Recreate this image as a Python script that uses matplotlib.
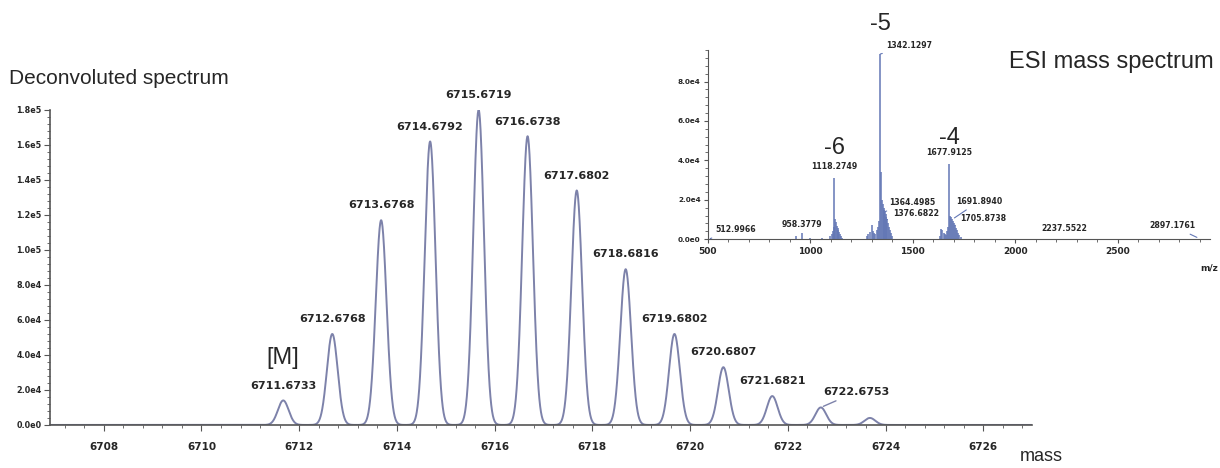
import numpy as np
import matplotlib.pyplot as plt
from matplotlib.ticker import MultipleLocator, AutoMinorLocator, FuncFormatter

# deconvoluted isotope peaks
masses = [6711.6733, 6712.6768, 6713.6768, 6714.6792, 6715.6719, 6716.6738,
          6717.6802, 6718.6816, 6719.6802, 6720.6807, 6721.6821, 6722.6753, 6723.68]
heights = [1.4e4, 5.2e4, 1.17e5, 1.62e5, 1.80e5, 1.65e5,
           1.34e5, 8.9e4, 5.2e4, 3.3e4, 1.65e4, 1.0e4, 4.0e3]
mass_labels = ["6711.6733", "6712.6768", "6713.6768", "6714.6792", "6715.6719", "6716.6738",
               "6717.6802", "6718.6816", "6719.6802", "6720.6807", "6721.6821", "6722.6753", None]

# raw ESI spectrum (m/z, intensity)
esi_mz = [512.9966, 930, 958.3779, 1000, 1060, 1096, 1104, 1110, 1114, 1118.2749, 1122, 1126,
          1130, 1134, 1138, 1142, 1146, 1150, 1156,
          1276, 1284, 1292, 1300, 1306, 1312, 1318, 1324, 1330, 1336, 1342.1297, 1346, 1350,
          1354, 1358, 1362, 1364.4985, 1368, 1372, 1376.6822, 1380, 1384, 1388, 1392, 1398,
          1632, 1638, 1644, 1650, 1656, 1662, 1668, 1672, 1677.9125, 1682, 1686, 1691.8940,
          1696, 1700, 1705.8738, 1710, 1715, 1720, 1726, 1734,
          2237.5522, 2897.1761]
esi_int = [300, 1500, 3000, 800, 600, 1500, 2500, 4000, 6000, 3.1e4, 1.0e4, 8500,
           6500, 5500, 4500, 3500, 2500, 1800, 800,
           1500, 2500, 3500, 7000, 4000, 3000, 2500, 4500, 6000, 9000, 9.4e4, 3.4e4, 2.0e4,
           1.8e4, 1.6e4, 1.5e4, 1.4e4, 1.3e4, 1.1e4, 1.0e4, 8000, 6000, 4500, 3000, 1500,
           1500, 5000, 4500, 3000, 2500, 2000, 4000, 6000, 3.8e4, 1.2e4, 1.1e4, 1.0e4,
           9000, 8000, 7000, 5500, 4500, 3000, 2000, 1000,
           300, 300]

# labelled ESI peaks: text offset in points, horizontal alignment, leader line
esi_labels = {
    "512.9966": ((4, 3), "left", True),
    "958.3779": ((0, 3), "center", False),
    "1118.2749": ((0, 5), "center", False),
    "1342.1297": ((4, 3), "left", True),
    "1364.4985": ((3, 3), "left", True),
    "1376.6822": ((4, 1), "left", True),
    "1677.9125": ((0, 5), "center", False),
    "1691.8940": ((3, 10), "left", True),
    "1705.8738": ((4, 2), "left", True),
    "2237.5522": ((0, 4), "center", False),
    "2897.1761": ((-3, 6), "right", True),
}

line_col = "#7d82aa"
esi_col = "#6377b5"
txt_col = "#262626"
big_font = ["Liberation Sans", "DejaVu Sans"]


def sci_fmt(v, pos):
    if v == 0:
        return "0.0e0"
    e = int(np.floor(np.log10(abs(v))))
    return f"{v / 10 ** e:.1f}e{e}"


plt.rcParams['font.family'] = ['DejaVu Sans']
fig = plt.figure(figsize=(12.2, 4.68), dpi=100)

# main deconvoluted spectrum
ax = fig.add_axes([0.041, 0.092, 0.805, 0.673])
x = np.linspace(6706.9, 6727, 6000)
y = np.zeros_like(x)
for m, h in zip(masses, heights):
    y += h * np.exp(-0.5 * ((x - m) / 0.11) ** 2)
ax.plot(x, y, color=line_col, lw=1.4)
ax.set_xlim(6706.9, 6727)
ax.set_ylim(0, 1.8e5)
ax.xaxis.set_major_locator(MultipleLocator(2))
ax.xaxis.set_minor_locator(AutoMinorLocator(5))
ax.yaxis.set_major_locator(MultipleLocator(2e4))
ax.yaxis.set_minor_locator(AutoMinorLocator(5))
ax.yaxis.set_major_formatter(FuncFormatter(sci_fmt))
for s in ["top", "right"]:
    ax.spines[s].set_visible(False)
for s in ["left", "bottom"]:
    ax.spines[s].set_color("#555555")
    ax.spines[s].set_linewidth(1.2)
ax.tick_params(which="major", length=4, color="#555555", labelcolor=txt_col)
ax.tick_params(which="minor", length=2.5, color="#555555")
ax.tick_params(axis="x", labelsize=7.5, pad=8)
ax.tick_params(axis="y", labelsize=5.8, pad=2)
for t in ax.get_xticklabels() + ax.get_yticklabels():
    t.set_fontweight("bold")

for m, h, lab in zip(masses, heights, mass_labels):
    if lab is None:
        continue
    if lab == "6722.6753":
        ax.annotate(lab, xy=(m, h), xytext=(m + 0.05, h + 6000), fontsize=8, fontweight="bold",
                    color=txt_col, ha="left", va="bottom",
                    arrowprops=dict(arrowstyle="-", color=line_col, lw=1))
    else:
        ax.annotate(lab, xy=(m, h), xytext=(0, 7), textcoords="offset points", fontsize=8,
                    fontweight="bold", color=txt_col, ha="center", va="bottom")

ax.annotate("[M]", xy=(masses[0], heights[0]), xytext=(0, 23), textcoords="offset points",
            fontsize=17, color=txt_col, ha="center", va="bottom", family=big_font)
fig.text(0.007, 0.833, "Deconvoluted spectrum", fontsize=15, color=txt_col, va="center",
         family=big_font)
fig.text(0.836, 0.014, "mass", fontsize=13, color=txt_col, family=big_font)

# inset: ESI spectrum
ai = fig.add_axes([0.580, 0.489, 0.412, 0.404])
ai.vlines(esi_mz, 0, esi_int, color=esi_col, lw=1.1)
ai.set_xlim(500, 2950)
ai.set_ylim(0, 9.6e4)
ai.xaxis.set_major_locator(MultipleLocator(500))
ai.xaxis.set_minor_locator(AutoMinorLocator(5))
ai.yaxis.set_major_locator(MultipleLocator(2e4))
ai.yaxis.set_minor_locator(AutoMinorLocator(5))
ai.yaxis.set_major_formatter(FuncFormatter(sci_fmt))
for s in ["top", "right"]:
    ai.spines[s].set_visible(False)
for s in ["left", "bottom"]:
    ai.spines[s].set_color("#555555")
ai.tick_params(which="major", length=3, color="#555555", labelcolor=txt_col)
ai.tick_params(which="minor", length=2, color="#555555")
ai.tick_params(axis="x", labelsize=6.5, pad=3)
ai.tick_params(axis="y", labelsize=5.2, pad=2)
for t in ai.get_xticklabels() + ai.get_yticklabels():
    t.set_fontweight("bold")

lab_kw = dict(fontsize=5.6, fontweight="bold", color=txt_col, va="bottom",
              textcoords="offset points")
for mz, it in zip(esi_mz, esi_int):
    lab = f"{mz:.4f}"
    if lab not in esi_labels:
        continue
    off, ha, leader = esi_labels[lab]
    arrow = dict(arrowstyle="-", color=esi_col, lw=0.8) if leader else None
    ai.annotate(lab, xy=(mz, it), xytext=off, ha=ha, arrowprops=arrow, **lab_kw)

ai.annotate("-6", xy=(1118.2749, 3.1e4), xytext=(0, 14), textcoords="offset points",
            fontsize=17, color=txt_col, ha="center", va="bottom", family=big_font)
ai.annotate("-5", xy=(1342.1297, 9.4e4), xytext=(0, 14), textcoords="offset points",
            fontsize=17, color=txt_col, ha="center", va="bottom", family=big_font)
ai.annotate("-4", xy=(1677.9125, 3.8e4), xytext=(0, 11), textcoords="offset points",
            fontsize=17, color=txt_col, ha="center", va="bottom", family=big_font)
fig.text(0.995, 0.868, "ESI mass spectrum", fontsize=17, color=txt_col, ha="right",
         va="center", family=big_font)
fig.text(0.984, 0.422, "m/z", fontsize=6.5, color=txt_col, ha="left", fontweight="bold")

fig.savefig("out.png", dpi=100)
